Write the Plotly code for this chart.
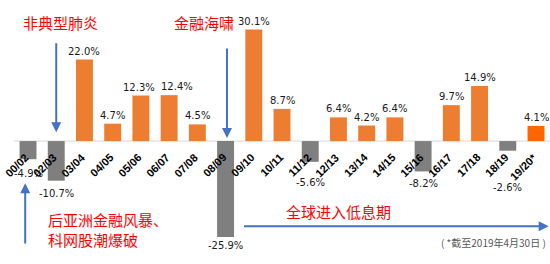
import plotly.graph_objects as go

categories = ["00/02", "02/03", "03/04", "04/05", "05/06", "06/07", "07/08", "08/09",
              "09/10", "10/11", "11/12", "12/13", "13/14", "14/15", "15/16", "16/17",
              "17/18", "18/19", "19/20*"]
values = [-4.9, -10.7, 22.0, 4.7, 12.3, 12.4, 4.5, -25.9, 30.1, 8.7, -5.6, 6.4,
          4.2, 6.4, -8.2, 9.7, 14.9, -2.6, 4.1]

# styles
ORANGE = "#ED7D31"
GRAY = "#7F7F7F"
LATEST = "#FF6600"
BLUE = "#4472C4"
RED = "#FF0000"
TXT = "#1a1a1a"
neg_label_shift = {0: -7, 1: -5, 7: -1, 10: -13, 14: -5, 17: -29}
label_xshift = {4: -2, 5: 8}

colors = []
for i, v in enumerate(values):
    if i == len(values) - 1:
        colors.append(LATEST)
    elif v < 0:
        colors.append(GRAY)
    else:
        colors.append(ORANGE)

YMIN, YMAX = -33.2, 38.1
XMIN, XMAX = -0.993, 18.496
xs = list(range(len(categories)))

fig = go.Figure()
fig.add_trace(go.Bar(
    x=xs, y=values, marker=dict(color=colors, line=dict(width=0)),
    width=0.6, hoverinfo="skip",
))

annotations = []
# value labels
for i, v in enumerate(values):
    if v < 0:
        annotations.append(dict(
            x=i, y=v, xref="x", yref="y", text=f"{v:.1f}%", showarrow=False,
            yanchor="top", yshift=neg_label_shift.get(i, -4),
            font=dict(family="DejaVu Sans", size=10, color=TXT)))
    else:
        annotations.append(dict(
            x=i, y=v, xref="x", yref="y", text=f"{v:.1f}%", showarrow=False,
            yanchor="bottom", yshift=1, xshift=label_xshift.get(i, 0),
            font=dict(family="DejaVu Sans", size=10, color=TXT)))

# category labels along the zero line
for i, c in enumerate(categories):
    annotations.append(dict(
        x=i, y=0, xref="x", yref="y", text=f"<b>{c}</b>", showarrow=False,
        textangle=-45, xanchor="right", yanchor="top", xshift=6, yshift=-7,
        font=dict(family="Liberation Sans", size=11, color="#000000")))

# red callouts
cj = "Noto Sans CJK SC"
def note(x, y, text, size=15, color=RED, xanchor="left"):
    return dict(x=x, y=y, xref="paper", yref="paper", text=text, showarrow=False,
                xanchor=xanchor, yanchor="middle", font=dict(family=cj, size=size, color=color))

annotations += [
    note(0.038, 0.915, "非典型肺炎"),
    note(0.312, 0.915, "金融海啸"),
    note(0.083, 0.170, "后亚洲金融风暴、"),
    note(0.083, 0.091, "科网股潮爆破"),
    note(0.516, 0.197, "全球进入低息期"),
    note(0.997, 0.083, "( *截至2019年4月30日 )", size=10, color="#595959", xanchor="right"),
]

# arrows
def arrow(x0, y0, x1, y1):
    return dict(x=x1, y=y1, ax=x0, ay=y0, xref="x", yref="y", axref="x", ayref="y",
                text="", showarrow=True, arrowhead=2, arrowsize=1, arrowwidth=2,
                arrowcolor=BLUE)

annotations += [
    arrow(1, 26.8, 1, 2.4),
    arrow(7.05, 25.4, 7.05, 0.8),
    arrow(-0.1, -28.1, -0.1, -11.4),
    arrow(7.6, -23.0, 18.45, -23.0),
]

fig.update_layout(
    width=550, height=264, margin=dict(l=0, r=0, t=0, b=0),
    paper_bgcolor="white", plot_bgcolor="white", showlegend=False,
    xaxis=dict(range=[XMIN, XMAX], showticklabels=False, showgrid=False, zeroline=False,
               showline=False, ticks=""),
    yaxis=dict(range=[YMIN, YMAX], showticklabels=False, showgrid=False,
               zeroline=False, ticks=""),
    shapes=[dict(type="line", xref="x", yref="y", x0=-0.5, x1=XMAX, y0=0, y1=0,
                 line=dict(color="#D9D9D9", width=1), layer="below")],
    annotations=annotations,
)

fig.write_html("out.html")
